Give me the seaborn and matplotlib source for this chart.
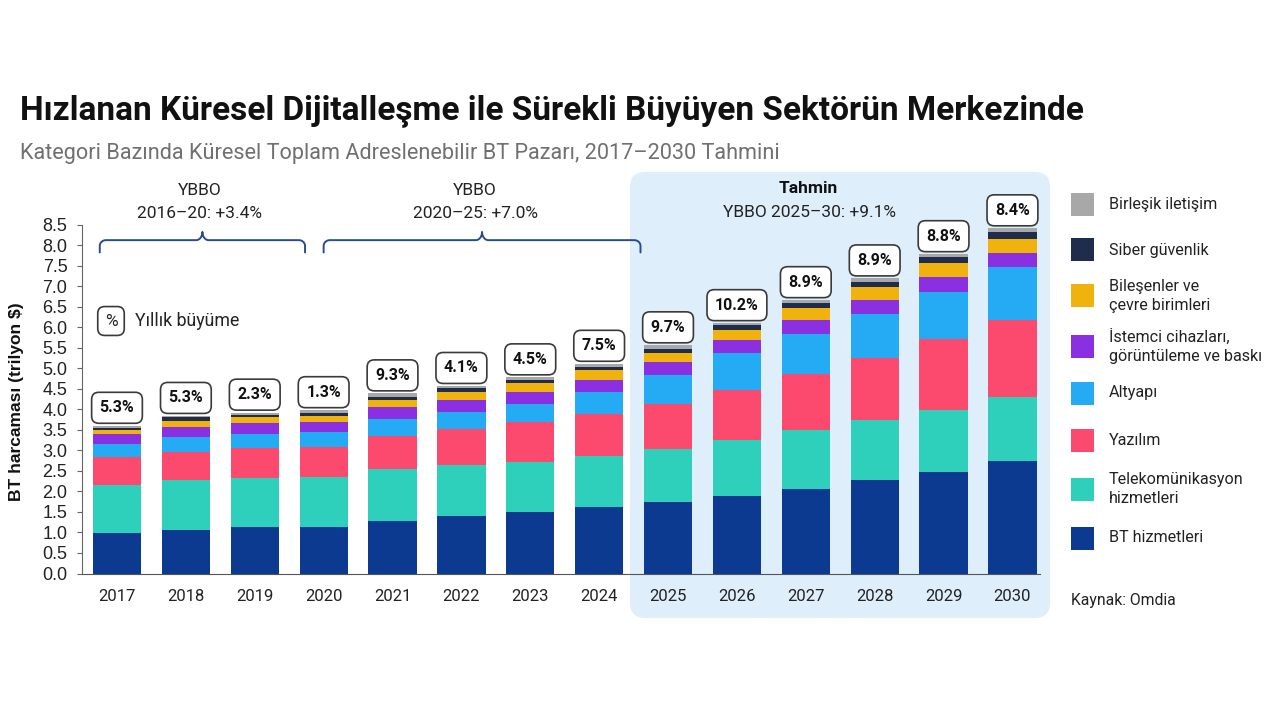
import numpy as np
import pandas as pd
import seaborn as sns
import matplotlib.pyplot as plt
from matplotlib.patches import FancyBboxPatch, Rectangle

# Veriler (trilyon $), grafikten okunmuş tahmini değerler
years = ['2017', '2018', '2019', '2020', '2021', '2022', '2023', '2024',
         '2025', '2026', '2027', '2028', '2029', '2030']
bt_hizmetleri = [0.98, 1.07, 1.14, 1.14, 1.28, 1.41, 1.50, 1.61, 1.74, 1.89, 2.07, 2.27, 2.47, 2.74]
telekom = [1.18, 1.21, 1.18, 1.20, 1.26, 1.23, 1.22, 1.26, 1.30, 1.35, 1.42, 1.46, 1.52, 1.55]
yazilim = [0.67, 0.69, 0.73, 0.73, 0.82, 0.88, 0.96, 1.02, 1.10, 1.22, 1.36, 1.53, 1.72, 1.88]
altyapi = [0.32, 0.36, 0.36, 0.37, 0.40, 0.42, 0.45, 0.52, 0.69, 0.90, 0.98, 1.07, 1.15, 1.29]
istemci = [0.24, 0.25, 0.25, 0.26, 0.29, 0.29, 0.28, 0.31, 0.31, 0.32, 0.34, 0.33, 0.37, 0.35]
bilesenler = [0.11, 0.14, 0.14, 0.14, 0.18, 0.20, 0.22, 0.24, 0.23, 0.25, 0.29, 0.32, 0.34, 0.35]
siber = [0.05, 0.08, 0.06, 0.06, 0.08, 0.08, 0.09, 0.08, 0.11, 0.12, 0.12, 0.13, 0.13, 0.17]
birlesik = [0.05, 0.04, 0.06, 0.08, 0.08, 0.06, 0.06, 0.07, 0.08, 0.05, 0.08, 0.08, 0.08, 0.08]
growth = ['5.3%', '5.3%', '2.3%', '1.3%', '9.3%', '4.1%', '4.5%', '7.5%',
          '9.7%', '10.2%', '8.9%', '8.9%', '8.8%', '8.4%']

categories = ['BT hizmetleri', 'Telekomünikasyon\nhizmetleri', 'Yazılım', 'Altyapı',
              'İstemci cihazları,\ngörüntüleme ve baskı', 'Bileşenler ve\nçevre birimleri',
              'Siber güvenlik', 'Birleşik iletişim']
colors = ['#0b3a90', '#2fd0bb', '#fb4a6e', '#25aaf4', '#8b30e0', '#f0b20c', '#1f2c4e', '#a8a8a8']

df = pd.DataFrame({'yil': years, categories[0]: bt_hizmetleri, categories[1]: telekom,
                   categories[2]: yazilim, categories[3]: altyapi, categories[4]: istemci,
                   categories[5]: bilesenler, categories[6]: siber, categories[7]: birlesik})
cum = df[categories].cumsum(axis=1)
totals = cum[categories[-1]].values

sns.set_style('white')
plt.rcParams['font.family'] = ['Roboto', 'DejaVu Sans']

fig = plt.figure(figsize=(12.8, 7.2), dpi=100)
ax = fig.add_axes([82 / 1280, 1 - 573.5 / 720, (1040 - 82) / 1280, (573.5 - 172) / 720])
ax.patch.set_alpha(0)

# Tahmin bölgesi (açık mavi arka plan)
fig.add_artist(FancyBboxPatch((6.30, 1.02), 4.20, 4.46, boxstyle='round,pad=0,rounding_size=0.15',
                              transform=fig.dpi_scale_trans, fc='#dfeefb', ec='none', zorder=-1))

# Yığılmış çubuklar: en üst kümülatif toplamdan başlayarak üst üste çizim
for cat, col in zip(reversed(categories), reversed(colors)):
    sns.barplot(x=df['yil'], y=cum[cat], color=col, saturation=1, width=0.70,
                errorbar=None, ax=ax, zorder=2, linewidth=0, edgecolor='none')

ax.set_xlim(-0.508, 13.4)
ax.set_ylim(0, 9.78)
ax.set_yticks(np.arange(0, 8.51, 0.5))
ax.set_yticklabels([f'{v:.1f}' for v in np.arange(0, 8.51, 0.5)], fontfamily='Liberation Sans')
ax.set_xlabel('')
ax.set_ylabel('')
for s in ['top', 'right']:
    ax.spines[s].set_visible(False)
ax.spines['left'].set_color('#666666')
ax.spines['bottom'].set_color('#555555')
ax.spines['left'].set_bounds(0, 8.5)
ax.tick_params(axis='x', length=0, pad=11, labelsize=12, labelcolor='#222222')
ax.tick_params(axis='y', length=3.5, width=0.8, color='#666666', pad=7, labelsize=13,
               labelcolor='#222222', left=True)

# Yıllık büyüme etiketleri
for i, (t, g) in enumerate(zip(totals, growth)):
    ax.annotate(g, xy=(i, t), xytext=(0, 7.5), textcoords='offset points', ha='center', va='bottom',
                fontsize=11.5, fontweight='bold', color='#111111', zorder=5,
                bbox=dict(boxstyle='round,pad=0.5,rounding_size=0.45', fc='white', ec='#3a3a3a', lw=1.2))


def brace(ax, x0, x1, y, h=0.3, bump=0.2, rx=0.09, ry=0.14, color='#2b4c8c'):
    xc = (x0 + x1) / 2
    t = np.linspace(0, np.pi / 2, 12)
    left_corner = (x0 + rx - rx * np.cos(t), y - ry + ry * np.sin(t))
    mid_left = (xc - rx + rx * np.sin(t), y + bump - bump * np.cos(t))
    xs = np.concatenate([[x0], left_corner[0], mid_left[0],
                         (2 * xc - mid_left[0])[::-1], (x0 + x1 - left_corner[0])[::-1], [x1]])
    ys = np.concatenate([[y - h], left_corner[1], mid_left[1],
                         mid_left[1][::-1], left_corner[1][::-1], [y - h]])
    ax.plot(xs, ys, color=color, lw=1.4, solid_joinstyle='round', clip_on=False, zorder=4)


brace(ax, -0.25, 2.73, 8.12)
brace(ax, 3.0, 7.6, 8.12)
ax.text(1.2, 9.34, 'YBBO', ha='center', va='center', fontsize=12.5, color='#222222')
ax.text(1.2, 8.78, '2016–20: +3.4%', ha='center', va='center', fontsize=12.5, color='#222222')
ax.text(5.2, 9.34, 'YBBO', ha='center', va='center', fontsize=12.5, color='#222222')
ax.text(5.2, 8.78, '2020–25: +7.0%', ha='center', va='center', fontsize=12.5, color='#222222')
ax.text(10.03, 9.39, 'Tahmin', ha='center', va='center', fontsize=12.5, fontweight='bold', color='#111111')
ax.text(10.06, 8.8, 'YBBO 2025–30: +9.1%', ha='center', va='center', fontsize=12.5, color='#222222')

# Yıllık büyüme göstergesi
fig.text(111 / 1280, 1 - 321 / 720, '%', ha='center', va='center', fontsize=12.5, color='#222222',
         bbox=dict(boxstyle='round,pad=0.4,rounding_size=0.4', fc='white', ec='#3a3a3a', lw=1.2))
fig.text(135 / 1280, 1 - 321 / 720, 'Yıllık büyüme', ha='left', va='center', fontsize=12.8, color='#222222')

# Başlıklar
fig.text(20 / 1280, 1 - 119 / 720, 'Hızlanan Küresel Dijitalleşme ile Sürekli Büyüyen Sektörün Merkezinde',
         ha='left', va='baseline', fontsize=24, fontweight='bold', color='#111111')
fig.text(20 / 1280, 1 - 159 / 720, 'Kategori Bazında Küresel Toplam Adreslenebilir BT Pazarı, 2017–2030 Tahmini',
         ha='left', va='baseline', fontsize=15.6, color='#707070')
fig.text(17 / 1280, 1 - 402 / 720, 'BT harcaması (trilyon $)', rotation=90, ha='center', va='center',
         fontsize=12.5, fontweight='bold', family='Liberation Sans', color='#111111')

# Lejant
legend_y = [538, 489, 440, 393, 346, 296, 250, 205]
for cat, col, yc in zip(categories, colors, legend_y):
    fig.add_artist(Rectangle((1071 / 1280, 1 - (yc + 11.5) / 720), 23 / 1280, 23 / 720,
                             transform=fig.transFigure, fc=col, ec='none'))
    fig.text(1109 / 1280, 1 - yc / 720, cat, ha='left', va='center', fontsize=11.6,
             color='#222222', linespacing=1.35)
fig.text(1071 / 1280, 1 - 600 / 720, 'Kaynak: Omdia', ha='left', va='center', fontsize=11.3, color='#222222')

fig.savefig('out.png', dpi=100, facecolor='white')
